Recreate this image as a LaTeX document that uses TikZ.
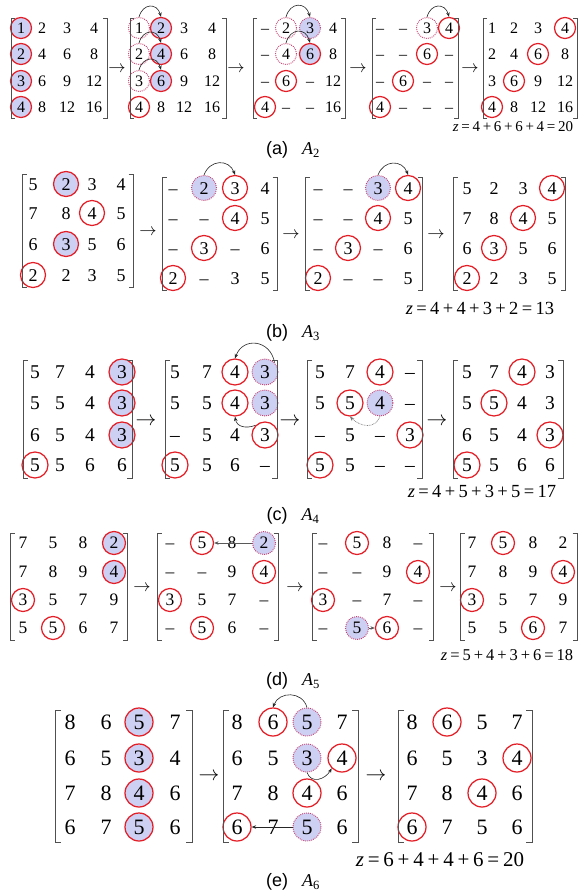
\documentclass[tikz,border=0pt]{standalone}
\usepackage{fontspec}
\setmainfont{Liberation Serif}
\setsansfont{Liberation Sans}
\newfontfamily\numserif[Ligatures=TeX]{Liberation Serif}
\newfontfamily\capsans[Ligatures=TeX]{Liberation Sans}
\usetikzlibrary{arrows.meta}
\pgfdeclarelayer{bgw}
\pgfdeclarelayer{bgc}
\pgfsetlayers{bgw,bgc,main}
\definecolor{ringred}{RGB}{228,30,38}
\definecolor{hlblue}{RGB}{205,208,242}
\definecolor{dotred}{RGB}{200,60,110}
\definecolor{brkgray}{RGB}{80,80,80}

\newcommand\mtx[4]{%
  \foreach \rw [count=\ri] in {#4} {%
    \pgfmathsetmacro\yy{{#3}[\ri-1]}%
    \foreach \tx [count=\ci] in \rw {%
      \pgfmathsetmacro\xx{{#2}[\ci-1]}%
      \node[cell] (#1-\ri-\ci) at (\xx,-\yy) {\tx};%
    }%
  }%
}
\newcommand\brk[4]{%
  \draw[brkline] (#1+\bs,-#3) -- (#1,-#3) -- (#1,-#4) -- (#1+\bs,-#4);
  \draw[brkline] (#2-\bs,-#3) -- (#2,-#3) -- (#2,-#4) -- (#2-\bs,-#4);}
\newcommand\rings[2]{\foreach \nm in {#2} {\node[#1] (\nm-o) at (\nm) {};}}
\newcommand\zsp{\hspace{0.18em}}
\newcommand\zeq[5]{\textit{z}\zsp=\zsp#1\zsp+\zsp#2\zsp+\zsp#3\zsp+\zsp#4\zsp=\zsp#5}

\begin{document}
\begin{tikzpicture}[x=1pt,y=1pt,
  cell/.style={inner sep=0pt, text height={0.68*\fs}, text depth=0pt, font=\numserif\fontsize{\fs}{\fs}\selectfont},
  ringb/.style={circle, inner sep=0pt, minimum size=\rs, line width=1.25pt},
  rc/.style={ringb, draw=ringred},
  bc/.style={ringb, draw=ringred, fill=hlblue},
  dc/.style={ringb, draw=dotred, line width=0.9pt, dash pattern=on 0.9pt off 1.1pt},
  bd/.style={dc, fill=hlblue},
  movearr/.style={draw=black!85, line width=0.6pt, -{Stealth[length=4.5pt,width=3.5pt]}},
  movegray/.style={movearr, draw=black!65},
  movedot/.style={movearr, draw=black!55, dash pattern=on 0.8pt off 0.8pt},
  midarr/.style={inner sep=0pt, font=\fontsize{\fs}{\fs}\selectfont},
  zlab/.style={inner sep=0pt, font=\numserif\fontsize{\zs}{\zs}\selectfont},
  caplab/.style={inner sep=0pt, font=\numserif\fontsize{18}{18}\selectfont},
  brkline/.style={draw=brkgray, line width=0.8pt}]
\begin{pgfonlayer}{bgw}
\fill[white] (0,0) rectangle (586,-896);
\end{pgfonlayer}
\useasboundingbox (0,0) rectangle (586,-896);

% ---------------- (a)
\def\fs{16}\def\rs{21}\def\bs{4}\def\zs{15}
\mtx{a1}{21,42,67,94}{28,54,81,107}{{1,2,3,4},{2,4,6,8},{3,6,9,12},{4,8,12,16}}
\mtx{a2}{139,161,184,212}{28,54,81,107}{{1,2,3,4},{2,4,6,8},{3,6,9,12},{4,8,12,16}}
\mtx{a3}{265,286,310,333}{28,54,81,107}{{--,2,3,4},{--,4,6,8},{--,6,--,12},{4,--,--,16}}
\mtx{a4}{380,403,427,449}{28,54,81,107}{{--,--,3,4},{--,--,6,--},{--,6,--,--},{4,--,--,--}}
\mtx{a5}{492,514,538,565}{28,54,81,107}{{1,2,3,4},{2,4,6,8},{3,6,9,12},{4,8,12,16}}
\brk{11}{107}{18}{118}\brk{130}{226}{18}{118}\brk{253}{345}{18}{118}
\brk{372}{458}{18}{118}\brk{483}{577}{18}{118}
\node[midarr] (aa1) at (117,-69) {$\rightarrow$};
\node[midarr] (aa2) at (236,-69) {$\rightarrow$};
\node[midarr] (aa3) at (358,-69) {$\rightarrow$};
\node[midarr] (aa4) at (470,-69) {$\rightarrow$};
\begin{pgfonlayer}{bgc}
\rings{bc}{a1-1-1,a1-2-1,a1-3-1,a1-4-1}
\rings{dc}{a2-1-1,a2-2-1,a2-3-1}
\rings{bc}{a2-1-2,a2-2-2,a2-3-2}
\rings{rc}{a2-4-1}
\rings{dc}{a3-1-2,a3-2-2}
\rings{bd}{a3-1-3}
\rings{bc}{a3-2-3}
\rings{rc}{a3-3-2,a3-4-1}
\rings{dc}{a4-1-3}
\rings{rc}{a4-1-4,a4-2-3,a4-3-2,a4-4-1}
\rings{rc}{a5-1-4,a5-2-3,a5-3-2,a5-4-1}
\end{pgfonlayer}
\foreach \r in {1,2,3}
  \draw[movearr] (a2-\r-1-o.north) to[out=75,in=105,looseness=1.7] (a2-\r-2-o.north);
\foreach \r in {1,2}
  \draw[movearr] (a3-\r-2-o.north) to[out=75,in=105,looseness=1.7] (a3-\r-3-o.north);
\draw[movearr] (a4-1-3-o.north) to[out=75,in=105,looseness=1.7] (a4-1-4-o.north);
\node[zlab] (za) at (513,-127) {\zeq{4}{6}{6}{4}{20}};
\node[caplab] (capa) at (293,-150) {{\capsans (a)}\hspace{14pt}\textit{A}\textsubscript{2}};

% ---------------- (b)
\def\fs{18}\def\rs{25}\def\bs{4.5}\def\zs{18.5}
\mtx{b1}{33,66,92,121}{184,213,244,275}{{5,2,3,4},{7,8,4,5},{6,3,5,6},{2,2,3,5}}
\mtx{b2}{173,204,235,265}{188,218,248,278}{{--,2,3,4},{--,--,4,5},{--,3,--,6},{2,--,3,5}}
\mtx{b3}{318,348,378,408}{188,218,248,278}{{--,--,3,4},{--,--,4,5},{--,3,--,6},{2,--,--,5}}
\mtx{b4}{467,494,523,552}{188,218,248,278}{{5,2,3,4},{7,8,4,5},{6,3,5,6},{2,2,3,5}}
\brk{22}{133}{174}{287}\brk{162}{277}{177}{290}\brk{305}{422}{177}{290}\brk{453}{565}{177}{290}
\node[midarr] (ba1) at (148,-232) {$\rightarrow$};
\node[midarr] (ba2) at (291,-235) {$\rightarrow$};
\node[midarr] (ba3) at (436,-235) {$\rightarrow$};
\begin{pgfonlayer}{bgc}
\rings{bc}{b1-1-2,b1-3-2}
\rings{rc}{b1-2-3,b1-4-1}
\rings{bd}{b2-1-2}
\rings{rc}{b2-1-3,b2-2-3,b2-3-2,b2-4-1}
\rings{bd}{b3-1-3}
\rings{rc}{b3-1-4,b3-2-3,b3-3-2,b3-4-1}
\rings{rc}{b4-1-4,b4-2-3,b4-3-2,b4-4-1}
\end{pgfonlayer}
\draw[movearr] (b2-1-2-o.north) to[out=70,in=110,looseness=1.4] (b2-1-3-o.north);
\draw[movearr] (b3-1-3-o.north) to[out=70,in=110,looseness=1.4] (b3-1-4-o.north);
\node[zlab] (zb) at (480,-308) {\zeq{4}{4}{3}{2}{13}};
\node[caplab] (capb) at (293,-333) {{\capsans (b)}\hspace{14pt}\textit{A}\textsubscript{3}};

% ---------------- (c)
\def\fs{19.5}\def\rs{26}\def\bs{5}\def\zs{18.5}
\mtx{c1}{35,60,90,122}{372,403,435,465}{{5,7,4,3},{5,5,4,3},{6,5,4,3},{5,5,6,6}}
\mtx{c2}{175,207,235,265}{372,403,435,465}{{5,7,4,3},{5,5,4,3},{--,5,4,3},{5,5,6,--}}
\mtx{c3}{320,350,380,410}{372,403,435,465}{{5,7,4,--},{5,5,4,--},{--,5,--,3},{5,5,--,--}}
\mtx{c4}{467,494,522,550}{372,403,435,465}{{5,7,4,3},{5,5,4,3},{6,5,4,3},{5,5,6,6}}
\brk{23}{132}{360}{478}\brk{165}{277}{360}{478}\brk{307}{422}{360}{478}\brk{453}{563}{360}{478}
\node[midarr] (ca1) at (146,-422) {$\rightarrow$};
\node[midarr] (ca2) at (290,-422) {$\rightarrow$};
\node[midarr] (ca3) at (437,-422) {$\rightarrow$};
\begin{pgfonlayer}{bgc}
\rings{bc}{c1-1-4,c1-2-4,c1-3-4}
\rings{rc}{c1-4-1}
\rings{rc}{c2-1-3,c2-2-3,c2-3-4,c2-4-1}
\rings{bd}{c2-1-4,c2-2-4}
\rings{rc}{c3-1-3,c3-2-2,c3-3-4,c3-4-1}
\rings{bd}{c3-2-3}
\rings{rc}{c4-1-3,c4-2-2,c4-3-4,c4-4-1}
\end{pgfonlayer}
\draw[movearr] (c2-1-4-o.north east) to[out=100,in=70,looseness=1.5] (c2-1-3-o.north);
\draw[movearr] (c2-3-4-o.north west) to[out=200,in=-80,looseness=1.2] (c2-2-3-o.south);
\draw[movedot] (c3-2-3-o.south) to[out=-110,in=-45,looseness=1.2] (c3-2-2-o.south);
\node[zlab] (zc) at (482,-491) {\zeq{4}{5}{3}{5}{17}};
\node[caplab] (capc) at (293,-516) {{\capsans (c)}\hspace{14pt}\textit{A}\textsubscript{4}};

% ---------------- (d)
\def\fs{17.5}\def\rs{23}\def\bs{4.5}\def\zs{16.5}
\mtx{d1}{23,53,83,114}{543,572,600,628}{{7,5,8,2},{7,8,9,4},{3,5,7,9},{5,5,6,7}}
\mtx{d2}{170,202,232,264}{543,572,600,628}{{--,5,8,2},{--,--,9,4},{3,5,7,--},{--,5,6,--}}
\mtx{d3}{323,357,387,418}{543,572,600,628}{{--,5,8,--},{--,--,9,4},{3,--,7,--},{--,5,6,--}}
\mtx{d4}{472,503,533,563}{543,572,600,628}{{7,5,8,2},{7,8,9,4},{3,5,7,9},{5,5,6,7}}
\brk{10}{127}{533}{640}\brk{157}{278}{533}{640}\brk{312}{433}{533}{640}\brk{460}{577}{533}{640}
\node[midarr] (da1) at (142,-588) {$\rightarrow$};
\node[midarr] (da2) at (295,-588) {$\rightarrow$};
\node[midarr] (da3) at (448,-588) {$\rightarrow$};
\begin{pgfonlayer}{bgc}
\rings{bc}{d1-1-4,d1-2-4}
\rings{rc}{d1-3-1,d1-4-2}
\rings{bd}{d2-1-4}
\rings{rc}{d2-1-2,d2-2-4,d2-3-1,d2-4-2}
\rings{rc}{d3-1-2,d3-2-4,d3-3-1,d3-4-3}
\rings{bd}{d3-4-2}
\rings{rc}{d4-1-2,d4-2-4,d4-3-1,d4-4-3}
\end{pgfonlayer}
\draw[movegray] (d2-1-4-o.west) -- (d2-1-2-o.east);
\draw[movegray] (d3-4-2-o.east) -- (d3-4-3-o.west);
\node[zlab] (zd) at (507,-655) {\zeq{5}{4}{3}{6}{18}};
\node[caplab] (capd) at (293,-681) {{\capsans (d)}\hspace{14pt}\textit{A}\textsubscript{5}};

% ---------------- (e)
\def\fs{22}\def\rs{28}\def\bs{6}\def\zs{21}
\mtx{e1}{70,106,139,175}{722,758,793,827}{{8,6,5,7},{6,5,3,4},{7,8,4,6},{6,7,5,6}}
\mtx{e2}{237,273,307,342}{722,758,793,827}{{8,6,5,7},{6,5,3,4},{7,8,4,6},{6,7,5,6}}
\mtx{e3}{412,447,482,517}{722,758,793,827}{{8,6,5,7},{6,5,3,4},{7,8,4,6},{6,7,5,6}}
\brk{55}{192}{710}{842}\brk{223}{358}{710}{842}\brk{398}{532}{710}{842}
\node[midarr] (ea1) at (209,-777) {$\rightarrow$};
\node[midarr] (ea2) at (376,-777) {$\rightarrow$};
\begin{pgfonlayer}{bgc}
\rings{bc}{e1-1-3,e1-2-3,e1-3-3,e1-4-3}
\rings{rc}{e2-1-2,e2-2-4,e2-3-3,e2-4-1}
\rings{bd}{e2-1-3,e2-2-3,e2-4-3}
\rings{rc}{e3-1-2,e3-2-4,e3-3-3,e3-4-1}
\end{pgfonlayer}
\draw[movearr] (e2-1-3-o.north) to[out=105,in=70,looseness=1.3] (e2-1-2-o.north);
\draw[movearr] (e2-2-3-o.south) to[out=-70,in=-120,looseness=1.3] (e2-2-4-o.south west);
\draw[movearr] (e2-4-3-o.west) -- (e2-4-1-o.east);
\node[zlab] (ze) at (440,-860) {\zeq{6}{4}{4}{6}{20}};
\node[caplab] (cape) at (293,-882) {{\capsans (e)}\hspace{14pt}\textit{A}\textsubscript{6}};
\end{tikzpicture}
\end{document}
